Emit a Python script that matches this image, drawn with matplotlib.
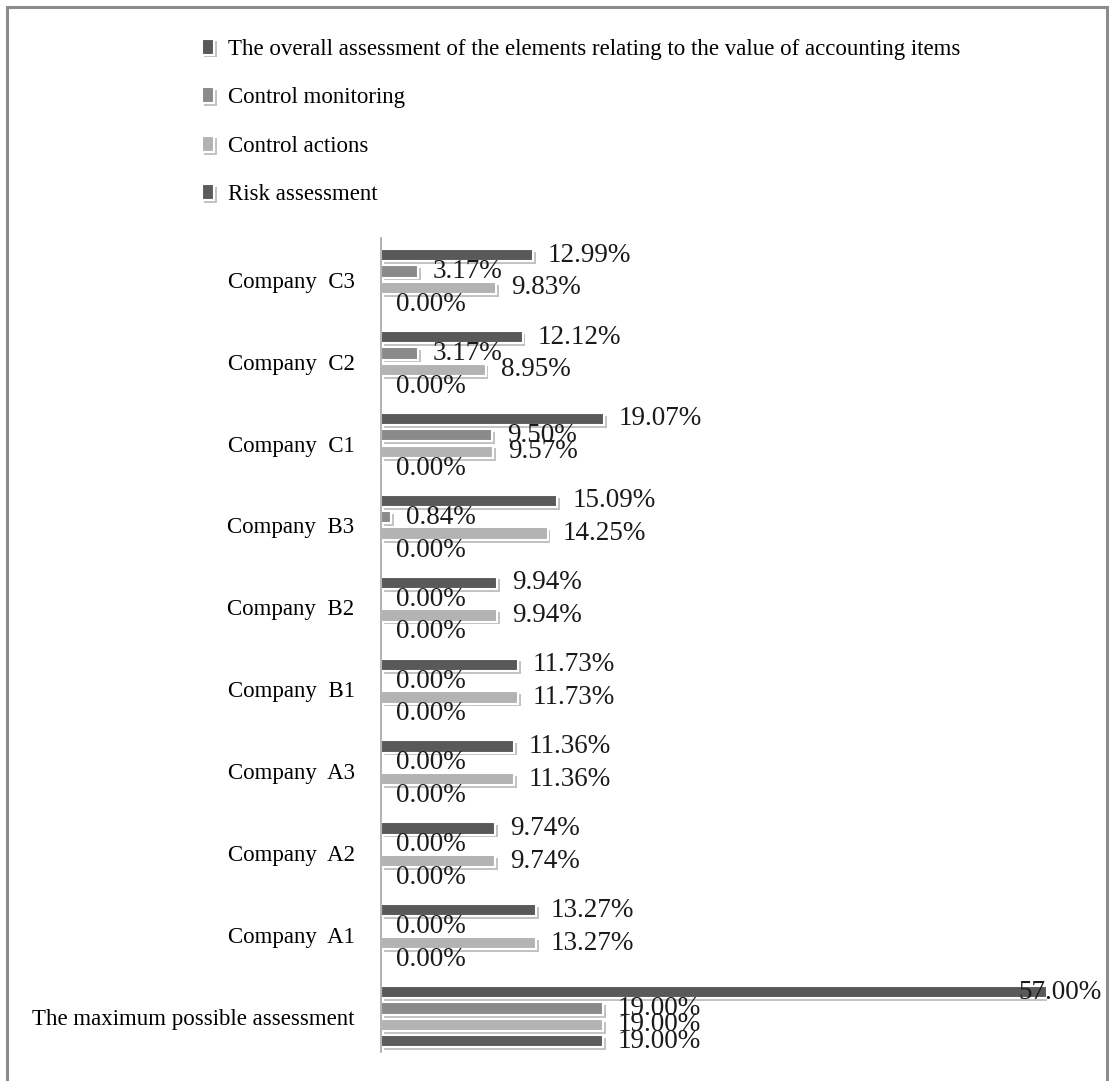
import matplotlib.pyplot as plt
import matplotlib.patheffects as pe
from matplotlib.patches import Rectangle
import numpy as np

# -----------------------------
# Data (bottom to top)
# -----------------------------
categories = [
    "The maximum possible assessment",
    "Company  A1", "Company  A2", "Company  A3",
    "Company  B1", "Company  B2", "Company  B3",
    "Company  C1", "Company  C2", "Company  C3",
]
overall = [57.00, 13.27, 9.74, 11.36, 11.73, 9.94, 15.09, 19.07, 12.12, 12.99]
monitoring = [19.00, 0.00, 0.00, 0.00, 0.00, 0.00, 0.84, 9.50, 3.17, 3.17]
actions = [19.00, 13.27, 9.74, 11.36, 11.73, 9.94, 14.25, 9.57, 8.95, 9.83]
risk = [19.00, 0.00, 0.00, 0.00, 0.00, 0.00, 0.00, 0.00, 0.00, 0.00]

series_names = [
    "The overall assessment of the elements relating to the value of accounting items",
    "Control monitoring",
    "Control actions",
    "Risk assessment",
]
series_values = [overall, monitoring, actions, risk]
colors = ["#595959", "#8a8a8a", "#b3b3b3", "#5c5c5c"]

plt.rcParams["font.family"] = ["Liberation Serif", "DejaVu Serif"]

fig = plt.figure(figsize=(11.09, 10.81), dpi=100)
ax = fig.add_axes([381 / 1109, 1 - 1052 / 1081, 666 / 1109, (1052 - 238) / 1081])

y = np.arange(len(categories))
pitch = 0.2
offsets = [1.5 * pitch, 0.5 * pitch, -0.5 * pitch, -1.5 * pitch]
shadow = [pe.SimplePatchShadow(offset=(2, -2), shadow_rgbFace="#9a9a9a", alpha=0.6), pe.Normal()]

handles = []
for name, vals, col, off in zip(series_names, series_values, colors, offsets):
    bars = ax.barh(y + off, vals, height=0.15, color=col, edgecolor="white",
                   linewidth=1.5, label=name)
    for b in bars:
        b.set_path_effects(shadow)
    handles.append(bars)
    for yi, v in zip(y + off, vals):
        # the longest bar's label is pulled back inside the plot, as in the original
        if v >= 50:
            ax.annotate(f"{v:.2f}%", (v, yi), xytext=(55, 0), textcoords="offset pixels",
                        ha="right", va="center", fontsize=19.5, color="#1a1a1a")
        else:
            ax.annotate(f"{v:.2f}%", (v, yi), xytext=(15, 0), textcoords="offset pixels",
                        ha="left", va="center", fontsize=19.5, color="#1a1a1a")

ax.set_xlim(0, 57)
ax.set_ylim(-0.43, 9.51)
ax.set_yticks(y)
ax.set_yticklabels(categories, fontsize=16.5)
ax.tick_params(axis="y", length=0, pad=19)
ax.set_xticks([])
for s in ["top", "right", "bottom"]:
    ax.spines[s].set_visible(False)
ax.spines["left"].set_color("#a6a6a6")
ax.spines["left"].set_linewidth(1.2)

fig.legend(handles=handles, labels=series_names, loc="upper left",
           bbox_to_anchor=(181 / 1109, 1 - 18 / 1081), frameon=False,
           fontsize=16.5, handlelength=0.55, handleheight=0.7, handletextpad=0.6,
           labelspacing=1.2)

# outer frame
fig.patches.append(Rectangle((7 / 1109, -0.02), 1100 / 1109, 1.02 - 7 / 1081,
                             transform=fig.transFigure, fill=False,
                             edgecolor="#8c8c8c", linewidth=2.2))

fig.savefig("out.png", dpi=100)
